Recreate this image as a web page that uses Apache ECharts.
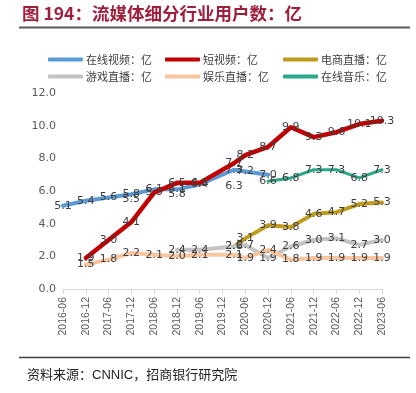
<!DOCTYPE html>
<html>
<head>
<meta charset="utf-8">
<script src="https://cdn.jsdelivr.net/npm/echarts@6/dist/echarts.min.js"></script>
<style>
html,body{margin:0;padding:0;background:#fff;}
#c{width:416px;height:393px;}
</style>
</head>
<body>
<div id="c"></div>
<script>
// Reporting dates (CNNIC half-year reports, plus 2020-03)
const dates = ['2016-06','2016-12','2017-06','2017-12','2018-06','2018-12','2019-06','2020-03','2020-06','2020-12','2021-06','2021-12','2022-06','2022-12','2023-06'];
// Axis tick labels (every 6 months)
const tickLabels = ['2016-06','2016-12','2017-06','2017-12','2018-06','2018-12','2019-06','2019-12','2020-06','2020-12','2021-06','2021-12','2022-06','2022-12','2023-06'];

const onlineVideo   = [5.1, 5.4, 5.6, 5.8, 6.1, 6.1, 6.4, 7.3, 7.2, 7.0, null, null, null, null, null];
const shortVideo    = [null, 1.9, 3.0, 4.1, 5.9, 6.5, 6.5, 7.7, 8.2, 8.7, 9.9, 9.3, 9.6, 10.1, 10.3];
const ecomLive      = [null, null, null, null, null, null, null, 2.6, 3.1, 3.9, 3.8, 4.6, 4.7, 5.2, 5.3];
const gameLive      = [null, null, null, null, null, 2.4, 2.4, 2.6, 2.7, 1.9, 2.6, 3.0, 3.1, 2.7, 3.0];
const showLive      = [null, 1.5, 1.8, 2.2, 2.1, 2.0, 2.1, 2.1, 1.9, 2.4, 1.8, 1.9, 1.9, 1.9, 1.9];
const onlineMusic   = [null, null, null, 5.5, null, 5.8, null, 6.3, null, 6.6, 6.8, 7.3, 7.3, 6.8, 7.3];

const names = ['在线视频：亿','短视频：亿','电商直播：亿','游戏直播：亿','娱乐直播：亿','在线音乐：亿'];
const colors = ['#5B9BD5','#C00000','#BF9B1E','#C4C4C4','#F9C6A0','#2BA88A'];
const widths = [4, 4.5, 4, 4, 4, 3];
const seriesValues = [onlineVideo, shortVideo, ecomLive, gameLive, showLive, onlineMusic];

function monthIdx(d){
  const [y,m] = d.split('-').map(Number);
  return (y-2016)*12 + (m-6);
}
function fmtMonth(v){
  const m = 5 + Math.round(v);
  const y = 2016 + Math.floor(m/12);
  const mm = (m % 12) + 1;
  return y + '-' + (mm < 10 ? '0' + mm : mm);
}

const series = seriesValues.map((arr, k) => ({
  name: names[k],
  type: 'line',
  data: dates.map((d, i) => [monthIdx(d), arr[i] === null ? null : arr[i]]),
  connectNulls: false,
  showSymbol: true,
  symbol: 'circle',
  symbolSize: 1,
  lineStyle: {width: widths[k], color: colors[k], cap: 'round', join: 'round'},
  itemStyle: {color: colors[k]},
  label: {
    show: true,
    position: 'inside',
    color: '#404040',
    fontSize: 11,
    fontFamily: 'DejaVu Sans, sans-serif',
    formatter: p => (p.value[1] == null ? '' : p.value[1].toFixed(1))
  },
  emphasis: {disabled: true},
  z: 2 + k
}));

const legendPos = [[48,54],[165,54],[283,54],[48,71],[165,71],[283,71]];
const legends = names.map((n, k) => ({
  data: [n],
  left: legendPos[k][0],
  top: legendPos[k][1],
  padding: 0,
  icon: 'roundRect',
  itemWidth: 35,
  itemHeight: 4,
  itemGap: 0,
  selectedMode: false,
  textStyle: {fontSize: 11, color: '#404040', fontFamily: 'Noto Sans CJK SC', padding: [0,0,0,-2]}
}));

const chart = echarts.init(document.getElementById('c'), null, {renderer: 'canvas'});
chart.setOption({
  animation: false,
  backgroundColor: '#fff',
  color: colors,
  legend: legends,
  grid: {left: 63, right: 34, top: 93, bottom: 104, containLabel: false},
  xAxis: {
    type: 'value',
    min: 0, max: 84, interval: 6,
    axisLine: {show: true, lineStyle: {color: '#D9D9D9', width: 1}},
    axisTick: {show: true, length: 5, lineStyle: {color: '#D9D9D9'}},
    splitLine: {show: false},
    axisLabel: {
      rotate: 90, fontSize: 10.5, color: '#595959', margin: 8,
      fontFamily: 'Liberation Sans, Arial, sans-serif',
      formatter: v => tickLabels[Math.round(v/6)] || fmtMonth(v)
    }
  },
  yAxis: {
    type: 'value',
    min: 0, max: 12, interval: 2,
    axisLine: {show: false},
    axisTick: {show: false},
    splitLine: {show: false},
    axisLabel: {fontSize: 11, color: '#595959', margin: 7, fontFamily: 'DejaVu Sans, sans-serif',
      formatter: v => v.toFixed(1)}
  },
  graphic: [
    {type: 'text', left: 22, top: 5, style: {text: '图 194：流媒体细分行业用户数：亿', fill: '#9F1E3B', font: 'bold 17.5px "Noto Sans CJK SC", sans-serif'}},
    {type: 'line', shape: {x1: 19, y1: 27.5, x2: 410, y2: 27.5}, style: {stroke: '#595959', lineWidth: 2}},
    {type: 'line', shape: {x1: 19, y1: 357.5, x2: 410, y2: 357.5}, style: {stroke: '#404040', lineWidth: 1.5}},
    {type: 'text', left: 27, top: 369, style: {text: '资料来源：CNNIC，招商银行研究院', fill: '#222', font: '13px "Liberation Sans", "Noto Sans CJK SC", sans-serif'}}
  ],
  series: series
});
</script>
</body>
</html>
